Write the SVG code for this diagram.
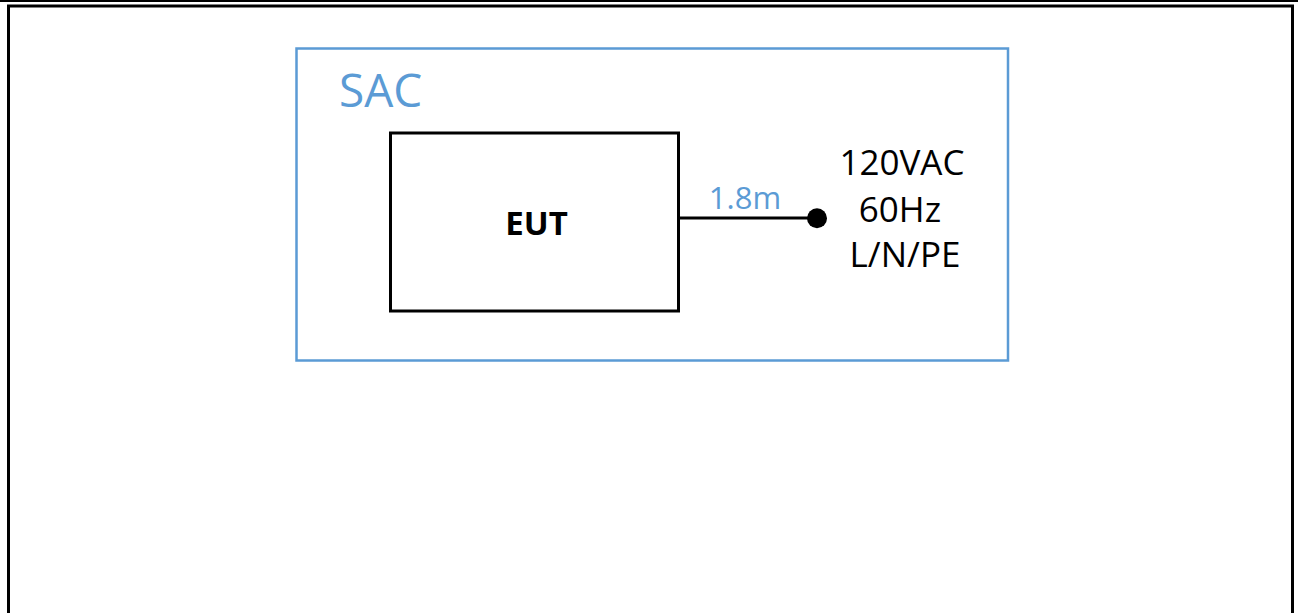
<svg xmlns="http://www.w3.org/2000/svg" width="1298" height="613" viewBox="0 0 1298 613">
<style>
.blue{fill:none;stroke:#5B9BD5;stroke-width:2.5}
.blk{fill:none;stroke:#000;stroke-width:3}
.t{font-family:"Open Sans","Liberation Sans",sans-serif;fill:#000}
.tb{fill:#5B9BD5}
</style>
<rect width="1298" height="613" fill="#fff"/>
<g id="frame">
<line x1="0" y1="1" x2="1298" y2="1" stroke="#000" stroke-width="2"/>
<path d="M8.5,613 V6 H1292.5 V613" fill="none" stroke="#000" stroke-width="3"/>
</g>
<g id="sac">
<rect class="blue" x="296.5" y="48.5" width="711.5" height="312"/>
<text class="t tb" x="339" y="106.5" font-size="46">SAC</text>
</g>
<g id="eut">
<rect class="blk" x="390.5" y="133" width="288" height="178"/>
<text class="t" x="536.5" y="235" font-size="33" font-weight="bold" text-anchor="middle">EUT</text>
</g>
<g id="connectors">
<line x1="680" y1="218" x2="815" y2="218" stroke="#000" stroke-width="3"/>
<circle cx="817" cy="218.3" r="10" fill="#000"/>
<text class="t tb" x="745" y="209" font-size="31" text-anchor="middle">1.8m</text>
</g>
<g id="source">
<text class="t" font-size="35" text-anchor="middle">
<tspan x="906.5" y="175">120VAC</tspan>
<tspan x="904.5" y="221.5">60Hz</tspan>
<tspan x="905" y="267">L/N/PE</tspan>
</text>
</g>
</svg>
